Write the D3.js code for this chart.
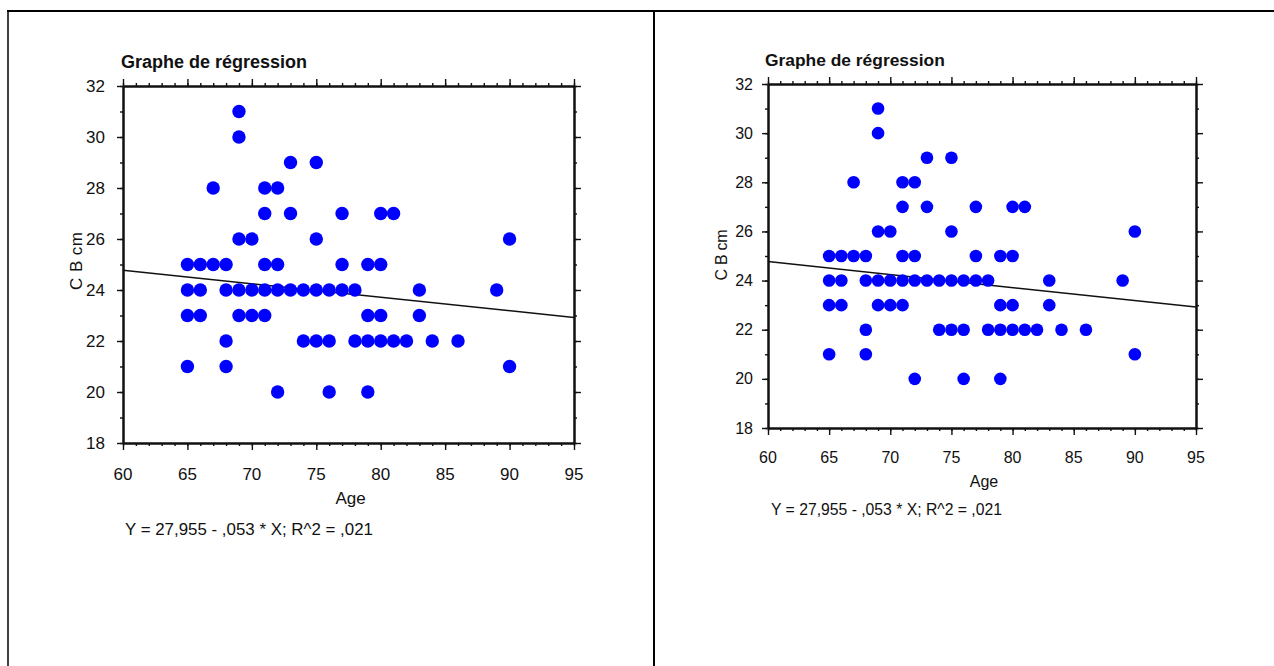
<!DOCTYPE html>
<html>
<head>
<meta charset="utf-8">
<script src="https://cdn.jsdelivr.net/npm/d3@7"></script>
<style>
  body { margin: 0; background: #fff; }
  svg text { font-family: "Liberation Sans", Arial, sans-serif; fill: #111; }
  .axis path, .axis line { stroke: #111; }
</style>
</head>
<body>
<svg id="chart" width="1274" height="666"></svg>
<script>
const ages = [
  65, 65, 65, 65,
  66, 66, 66,
  67, 67,
  68, 68, 68, 68,
  69, 69, 69, 69, 69,
  70, 70, 70,
  71, 71, 71, 71, 71,
  72, 72, 72, 72,
  73, 73, 73,
  74, 74,
  75, 75, 75, 75,
  76, 76, 76,
  77, 77, 77,
  78, 78,
  79, 79, 79, 79,
  80, 80, 80, 80,
  81, 81,
  82,
  83, 83,
  84,
  86,
  89,
  90, 90
];
const cbs = [
  25, 24, 23, 21,
  25, 24, 23,
  28, 25,
  25, 24, 22, 21,
  31, 30, 26, 24, 23,
  26, 24, 23,
  28, 27, 25, 24, 23,
  28, 25, 24, 20,
  29, 27, 24,
  24, 22,
  29, 26, 24, 22,
  24, 22, 20,
  27, 25, 24,
  24, 22,
  25, 23, 22, 20,
  27, 25, 23, 22,
  27, 22,
  22,
  24, 23,
  22,
  22,
  24,
  26, 21
];
const xTicks = [60, 65, 70, 75, 80, 85, 90, 95];
const yTicks = [18, 20, 22, 24, 26, 28, 30, 32];
const intercept = 27.955, slope = -0.053;
const titleText = 'Graphe de régression';
const xTitle = 'Age', yTitle = 'C B cm';
const equation = 'Y = 27,955 - ,053 * X; R^2 = ,021';

// two panels, same chart at slightly different sizes
const panels = [
  {x0: 123, x1: 574, y0: 86, y1: 443, r: 6.7, fs: 17, tfs: 18, titleX: 121, titleY: 68,
   yLabGap: 18, xLabY: 480, ageY: 504, eqX: 125, eqY: 535, eqW: 248, ylabX: 82, ylabY: 261, ylabW: 58},
  {x0: 768, x1: 1196, y0: 84, y1: 428, r: 6.3, fs: 16, tfs: 17.4, titleX: 765, titleY: 66,
   yLabGap: 15, xLabY: 463, ageY: 487, eqX: 771, eqY: 515, eqW: 231, ylabX: 727, ylabY: 255, ylabW: 51}
];

const svg = d3.select('#chart');

// table borders
svg.append('line').attr('x1', 7).attr('x2', 1274).attr('y1', 11).attr('y2', 11)
  .attr('stroke', '#000').attr('stroke-width', 2);
svg.append('line').attr('x1', 8).attr('x2', 8).attr('y1', 10).attr('y2', 666)
  .attr('stroke', '#000').attr('stroke-width', 1.5);
svg.append('line').attr('x1', 654).attr('x2', 654).attr('y1', 10).attr('y2', 666)
  .attr('stroke', '#000').attr('stroke-width', 2);

panels.forEach(p => {
  const x = d3.scaleLinear().domain([60, 95]).range([p.x0, p.x1]);
  const y = d3.scaleLinear().domain([18, 32]).range([p.y1, p.y0]);
  const g = svg.append('g');

  // title
  g.append('text').attr('x', p.titleX).attr('y', p.titleY)
    .attr('font-size', p.tfs).attr('font-weight', 'bold').text(titleText);

  // axes: major + minor ticks all round
  const minorX = d3.range(60, 96, 1), minorY = d3.range(18, 33, 1);
  const addAxis = (axis, tr) => {
    g.append('g').attr('class', 'axis').attr('transform', tr).call(axis)
      .call(s => s.selectAll('path').attr('stroke-width', 2))
      .call(s => s.selectAll('line').attr('stroke-width', 1.4));
  };
  addAxis(d3.axisBottom(x).tickValues(minorX).tickSize(3).tickSizeOuter(0).tickFormat(''), `translate(0,${p.y1})`);
  addAxis(d3.axisBottom(x).tickValues(xTicks).tickSize(7).tickSizeOuter(0).tickFormat(''), `translate(0,${p.y1})`);
  addAxis(d3.axisTop(x).tickValues(minorX).tickSize(3).tickSizeOuter(0).tickFormat(''), `translate(0,${p.y0})`);
  addAxis(d3.axisTop(x).tickValues(xTicks).tickSize(7).tickSizeOuter(0).tickFormat(''), `translate(0,${p.y0})`);
  addAxis(d3.axisLeft(y).tickValues(minorY).tickSize(3).tickSizeOuter(0).tickFormat(''), `translate(${p.x0},0)`);
  addAxis(d3.axisLeft(y).tickValues(yTicks).tickSize(6).tickSizeOuter(0).tickFormat(''), `translate(${p.x0},0)`);
  addAxis(d3.axisRight(y).tickValues(minorY).tickSize(3).tickSizeOuter(0).tickFormat(''), `translate(${p.x1},0)`);
  addAxis(d3.axisRight(y).tickValues(yTicks).tickSize(7).tickSizeOuter(0).tickFormat(''), `translate(${p.x1},0)`);

  // tick labels
  g.selectAll('.xl').data(xTicks).join('text')
    .attr('x', d => x(d)).attr('y', p.xLabY).attr('text-anchor', 'middle')
    .attr('font-size', p.fs).text(d => d);
  g.selectAll('.yl').data(yTicks).join('text')
    .attr('x', p.x0 - p.yLabGap).attr('y', d => y(d)).attr('dy', '0.35em')
    .attr('text-anchor', 'end').attr('font-size', p.fs).text(d => d);

  // axis titles
  g.append('text').attr('x', (p.x0 + p.x1) / 2 + 2).attr('y', p.ageY)
    .attr('text-anchor', 'middle').attr('font-size', p.fs).text(xTitle);
  g.append('text').attr('transform', `translate(${p.ylabX},${p.ylabY}) rotate(-90)`)
    .attr('text-anchor', 'middle').attr('font-size', p.fs)
    .attr('textLength', p.ylabW).attr('lengthAdjust', 'spacing').text(yTitle);

  // regression line
  g.append('line')
    .attr('x1', x(60)).attr('y1', y(intercept + slope * 60))
    .attr('x2', x(95)).attr('y2', y(intercept + slope * 95))
    .attr('stroke', '#111').attr('stroke-width', 1.5);

  // points
  g.selectAll('circle').data(ages).join('circle')
    .attr('cx', d => x(d)).attr('cy', (d, i) => y(cbs[i]))
    .attr('r', p.r).attr('fill', '#0000ff');

  // equation
  g.append('text').attr('x', p.eqX).attr('y', p.eqY).attr('font-size', p.fs)
    .attr('textLength', p.eqW).attr('lengthAdjust', 'spacingAndGlyphs').text(equation);
});
</script>
</body>
</html>
